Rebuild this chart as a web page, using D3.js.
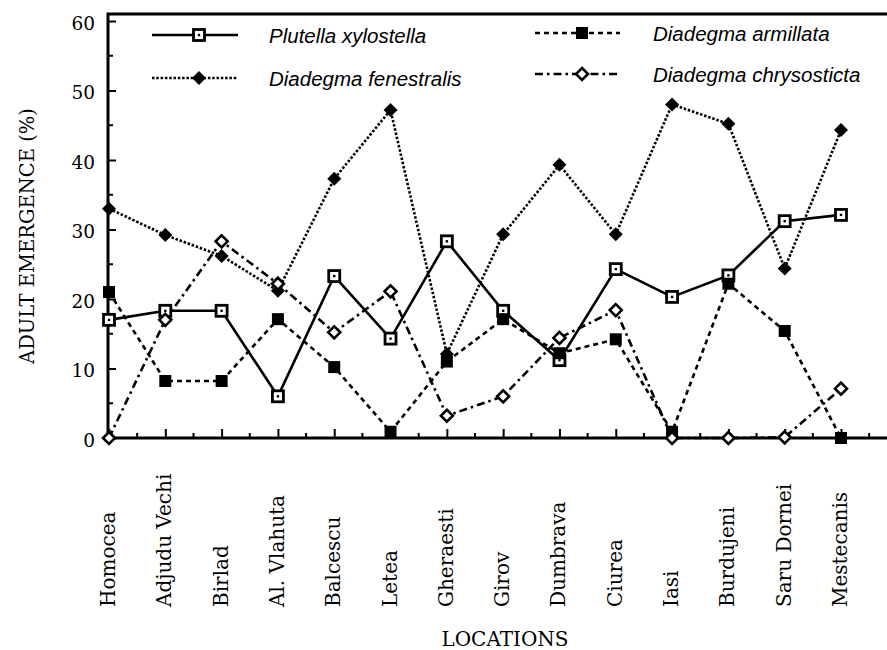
<!DOCTYPE html>
<html>
<head>
<meta charset="utf-8">
<script src="https://cdn.jsdelivr.net/npm/d3@7"></script>
<style>
  html, body { margin: 0; padding: 0; background: #fff; }
  svg { display: block; }
  .serif { font-family: "DejaVu Serif", serif; fill: #000; }
  .leg { font-family: "Liberation Sans", Arial, sans-serif; font-style: italic; font-size: 20.5px; fill: #000; }
</style>
</head>
<body>
<div id="chart"></div>
<script>
(() => {
  "use strict";

  const locations = ["Homocea","Adjudu Vechi","Birlad","Al. Vlahuta","Balcescu","Letea","Gheraesti",
                     "Girov","Dumbrava","Ciurea","Iasi","Burdujeni","Saru Dornei","Mestecanis"];

  const plutella     = [17, 18.3, 18.3, 6, 23.3, 14.3, 28.3, 18.3, 11.2, 24.3, 20.3, 23.4, 31.2, 32.1];
  const fenestralis  = [33, 29.2, 26.2, 21.2, 37.3, 47.2, 12.1, 29.3, 39.3, 29.3, 48, 45.2, 24.4, 44.3];
  const armillata    = [21, 8.2, 8.2, 17.1, 10.2, 0.9, 11, 17.1, 12.2, 14.2, 0.9, 22.2, 15.4, 0];
  const chrysosticta = [0, 17, 28.3, 22.2, 15.2, 21.1, 3.2, 6, 14.4, 18.4, 0, 0, 0.1, 7.1];

  const yTicks = [0, 10, 20, 30, 40, 50, 60];
  const yMinor = [5, 15, 25, 35, 45, 55];

  // style per series: dash pattern + marker kind
  const series = [
    { name: "Plutella xylostella",   values: plutella,     dash: null,        marker: "openSquare" },
    { name: "Diadegma fenestralis",  values: fenestralis,  dash: "2.5,1.8",   marker: "fillDiamond" },
    { name: "Diadegma armillata",    values: armillata,    dash: "5,4",       marker: "fillSquare" },
    { name: "Diadegma chrysosticta", values: chrysosticta, dash: "8,4,2.5,4", marker: "openDiamond" }
  ];

  const W = 887, H = 650;
  const svg = d3.select("#chart").append("svg").attr("width", W).attr("height", H);

  const x = d3.scalePoint().domain(locations).range([109, 841]);
  const y = d3.scaleLinear().domain([0, 60]).range([438, 21]);
  const step = x.step();
  const left = 108, right = W;

  function drawMarker(g, kind, cx, cy) {
    if (kind === "openSquare") {
      g.append("rect").attr("x", cx - 5.5).attr("y", cy - 5.5).attr("width", 11).attr("height", 11)
        .attr("fill", "#fff").attr("stroke", "#000").attr("stroke-width", 2.8);
      g.append("rect").attr("x", cx - 1.2).attr("y", cy - 1.2).attr("width", 2.4).attr("height", 2.4).attr("fill", "#000");
    } else if (kind === "fillSquare") {
      g.append("rect").attr("x", cx - 6).attr("y", cy - 6).attr("width", 12).attr("height", 12).attr("fill", "#000");
    } else if (kind === "fillDiamond") {
      const r = 7;
      g.append("path").attr("d", `M${cx},${cy - r}L${cx + r},${cy}L${cx},${cy + r}L${cx - r},${cy}Z`).attr("fill", "#000");
    } else {
      const r = 6;
      g.append("path").attr("d", `M${cx},${cy - r}L${cx + r},${cy}L${cx},${cy + r}L${cx - r},${cy}Z`)
        .attr("fill", "#fff").attr("stroke", "#000").attr("stroke-width", 2.6);
    }
  }

  // ---- axes ----
  const yAxis = d3.axisLeft(y).tickValues(yTicks).tickSize(-8).tickPadding(13);
  const yG = svg.append("g").attr("transform", `translate(${left},0)`).call(yAxis);
  yG.select(".domain").remove();
  yG.selectAll(".tick line").attr("stroke-width", 2);
  yG.selectAll(".tick text").attr("class", "serif").style("font-size", "18.5px").attr("dy", "0.45em");
  yG.selectAll("line.minor").data(yMinor).join("line").attr("class", "minor")
    .attr("x1", 0).attr("x2", 5).attr("y1", d => y(d)).attr("y2", d => y(d))
    .attr("stroke", "#000").attr("stroke-width", 2);

  const xAxis = d3.axisBottom(x).tickSize(-9).tickFormat("");
  const xG = svg.append("g").attr("transform", `translate(0,${y(0)})`).call(xAxis);
  xG.select(".domain").remove();
  xG.selectAll(".tick line").attr("stroke-width", 2);
  xG.selectAll("line.minor").data(locations).join("line").attr("class", "minor")
    .attr("x1", d => x(d) + step / 2).attr("x2", d => x(d) + step / 2)
    .attr("y1", 0).attr("y2", -5).attr("stroke", "#000").attr("stroke-width", 2);

  // frame: left, bottom, top
  const frame = svg.append("g").attr("stroke", "#000").attr("stroke-width", 3).attr("fill", "none");
  frame.append("path").attr("d", `M${right},${y(61)}H${left}V${y(0)}H${right}`);

  // x labels, rotated
  svg.append("g").selectAll("text").data(locations).join("text")
    .attr("class", "serif").style("font-size", "20px")
    .attr("transform", d => `translate(${x(d) + 6},607) rotate(-90)`)
    .attr("text-anchor", "start")
    .text(d => d);

  svg.append("text").attr("class", "serif").style("font-size", "20px")
    .attr("x", 505).attr("y", 646).attr("text-anchor", "middle").text("LOCATIONS");

  svg.append("text").attr("class", "serif").style("font-size", "19.5px")
    .attr("transform", "translate(34,236) rotate(-90)").attr("text-anchor", "middle")
    .text("ADULT EMERGENCE (%)");

  // ---- series ----
  const line = d3.line().x((d, i) => x(locations[i])).y(d => y(d));
  const plot = svg.append("g");
  series.forEach(s => {
    plot.append("path").attr("d", line(s.values)).attr("fill", "none")
      .attr("stroke", "#000").attr("stroke-width", 2.6)
      .attr("stroke-dasharray", s.dash);
  });
  series.forEach(s => {
    const g = plot.append("g");
    s.values.forEach((v, i) => drawMarker(g, s.marker, x(locations[i]), y(v)));
  });

  // ---- legend ----
  const legPos = [
    { x1: 152, x2: 238, mx: 199, y: 35, tx: 269 },
    { x1: 152, x2: 238, mx: 199, y: 78, tx: 269 },
    { x1: 535, x2: 620, mx: 582, y: 33, tx: 653 },
    { x1: 535, x2: 620, mx: 582, y: 74, tx: 653 }
  ];
  const leg = svg.append("g");
  series.forEach((s, i) => {
    const p = legPos[i];
    leg.append("line").attr("x1", p.x1).attr("x2", p.x2).attr("y1", p.y).attr("y2", p.y)
      .attr("stroke", "#000").attr("stroke-width", 2.4).attr("stroke-dasharray", s.dash);
    drawMarker(leg, s.marker, p.mx, p.y);
    leg.append("text").attr("class", "leg").attr("x", p.tx).attr("y", p.y + 7.5).text(s.name);
  });
})();
</script>
</body>
</html>
